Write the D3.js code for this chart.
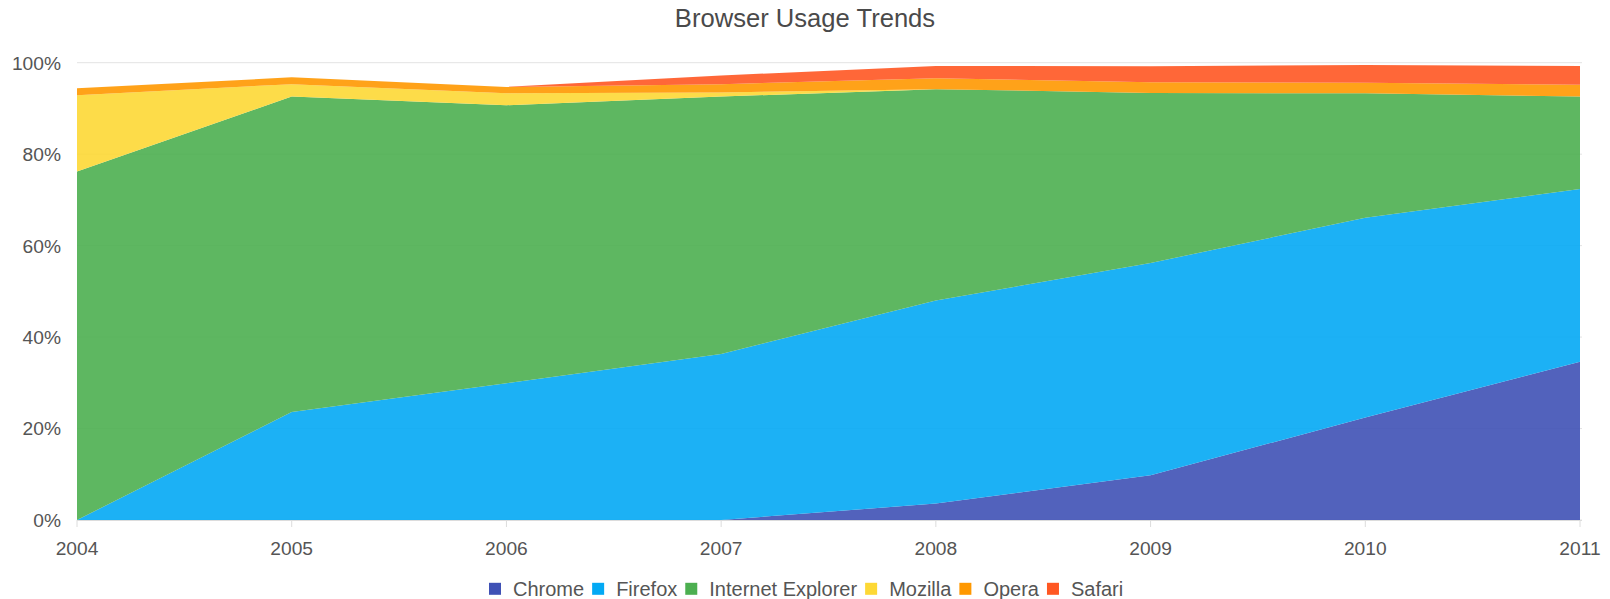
<!DOCTYPE html>
<html>
<head>
<meta charset="utf-8">
<script src="https://cdn.jsdelivr.net/npm/d3@7/dist/d3.min.js"></script>
<style>
  html, body { margin: 0; padding: 0; background: #fff; }
  svg { display: block; font-family: "Liberation Sans", Arial, sans-serif; }
</style>
</head>
<body>
<svg id="chart" width="1610" height="599"></svg>
<script>
const years = ["2004", "2005", "2006", "2007", "2008", "2009", "2010", "2011"];
const seriesNames = ["Chrome", "Firefox", "Internet Explorer", "Mozilla", "Opera", "Safari"];
const seriesColors = ["#3f51b5", "#03a9f4", "#4caf50", "#fdd835", "#ff9800", "#ff5722"];
const chrome  = [0, 0, 0, 0, 3.6, 9.8, 22.4, 34.6];
const firefox = [0, 23.6, 29.9, 36.3, 44.4, 46.4, 43.7, 37.8];
const ie      = [76.2, 69.0, 60.8, 56.3, 46.2, 37.2, 27.2, 20.2];
const mozilla = [16.7, 2.7, 2.6, 0.9, 0, 0, 0, 0];
const opera   = [1.5, 1.5, 1.4, 1.8, 2.4, 2.3, 2.3, 2.6];
const safari  = [0, 0, 0, 1.9, 2.7, 3.5, 3.9, 4.1];
const yTicks = [0, 20, 40, 60, 80, 100];

(function () {
const seriesValues = [chrome, firefox, ie, mozilla, opera, safari];
const rows = years.map((yr, i) => {
  const r = { year: yr };
  seriesNames.forEach((n, k) => r[n] = seriesValues[k][i]);
  return r;
});

const svg = d3.select("#chart");
const pLeft = 77, pRight = 1580, pTop = 62.7, pBottom = 520;

const x = d3.scalePoint().domain(years).range([pLeft, pRight]);
const y = d3.scaleLinear().domain([0, 100]).range([pBottom, pTop]);

// Title
svg.append("text")
  .attr("x", 805).attr("y", 27)
  .attr("text-anchor", "middle")
  .attr("font-size", 25.6)
  .attr("fill", "#4a4a4a")
  .text("Browser Usage Trends");

// Grid lines
svg.append("g").selectAll("line").data(yTicks).join("line")
  .attr("x1", pLeft).attr("x2", pRight + 2)
  .attr("y1", d => y(d)).attr("y2", d => y(d))
  .attr("stroke", "#e3e3e3").attr("stroke-width", 1);

// Stacked areas
const stack = d3.stack().keys(seriesNames);
const layers = stack(rows);
const area = d3.area()
  .x(d => x(d.data.year))
  .y0(d => y(d[0]))
  .y1(d => y(d[1]));

svg.append("g").selectAll("path").data(layers).join("path")
  .attr("d", area)
  .attr("fill", (d, i) => seriesColors[i])
  .attr("fill-opacity", 0.9);

// X axis line + ticks
svg.append("line")
  .attr("x1", pLeft).attr("x2", pRight + 2)
  .attr("y1", pBottom + 0.5).attr("y2", pBottom + 0.5)
  .attr("stroke", "#dcdcdc");
svg.append("g").selectAll("line").data(years).join("line")
  .attr("x1", d => x(d)).attr("x2", d => x(d))
  .attr("y1", pBottom).attr("y2", pBottom + 7)
  .attr("stroke", "#dcdcdc");

// X labels
svg.append("g").selectAll("text").data(years).join("text")
  .attr("x", d => x(d)).attr("y", 555)
  .attr("text-anchor", "middle")
  .attr("font-size", 19.2)
  .attr("fill", "#555")
  .text(d => d);

// Y labels
svg.append("g").selectAll("text").data(yTicks).join("text")
  .attr("x", 61).attr("y", d => y(d))
  .attr("dy", "0.36em")
  .attr("text-anchor", "end")
  .attr("font-size", 19.2)
  .attr("fill", "#555")
  .text(d => d + "%");

// Legend
const legend = svg.append("g");
let lx = 489;
const ly = 588.8;
seriesNames.forEach((n, i) => {
  const g = legend.append("g");
  g.append("rect")
    .attr("x", lx).attr("y", ly - 6)
    .attr("width", 12).attr("height", 12)
    .attr("fill", seriesColors[i]);
  const t = g.append("text")
    .attr("x", lx + 24).attr("y", ly)
    .attr("dy", "0.35em")
    .attr("font-size", 20)
    .attr("fill", "#555")
    .text(n);
  const w = t.node().getComputedTextLength();
  lx += 24 + w + 8;
});
})();
</script>
</body>
</html>
